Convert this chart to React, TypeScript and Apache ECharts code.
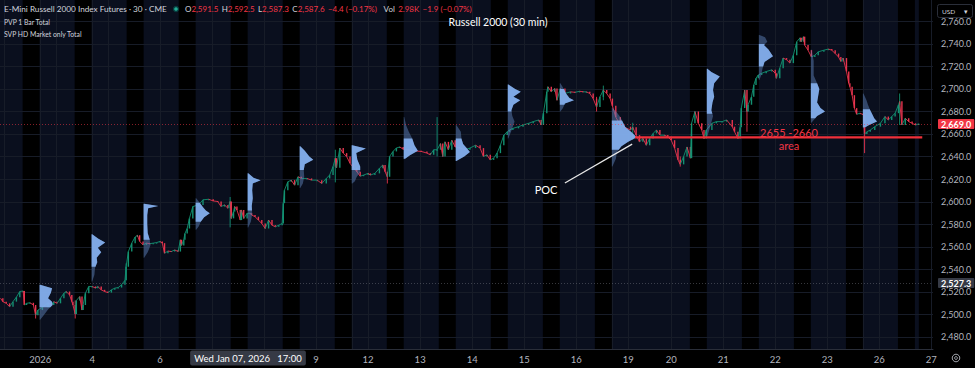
import React, { useEffect, useRef } from 'react';
import * as echarts from 'echarts';

// ---------- axis ticks ----------
const priceTicks = [2480, 2500, 2520, 2540, 2560, 2580, 2600, 2620, 2640, 2660, 2680, 2700, 2720, 2740, 2760];
const dayTickBars = [35, 81, 141, 279, 325, 371, 417, 463, 509, 555, 593, 639, 685, 731, 777, 823];
const dayTickLabels = ['2026', '4', '6', '9', '12', '13', '14', '15', '16', '19', '20', '21', '22', '23', '26', '27'];
const dayStartBars = [3, 35, 49, 81, 95, 141, 187, 233, 279, 311, 325, 371, 417, 463, 509, 541, 555, 593, 639, 685, 731, 763, 777, 823];

// overnight (ETH) session bands, in 30-min bars
const ethBands = [[-11, 20], [35, 66], [81, 112], [127, 158], [173, 204], [219, 250], [265, 296], [311, 342], [357, 388], [403, 434], [449, 480], [495, 526], [541, 610], [625, 656], [671, 702], [717, 748], [763, 794], [809, 812.5]];

// ---------- price path (bar index, close) ----------
const pathBars = [0, 2, 5, 8, 11, 14, 17, 20, 21, 23, 26, 29, 31, 33, 37, 42, 45, 47, 50, 53, 56, 58, 61, 63, 64, 66, 67, 70, 72, 73, 75, 78, 81, 84, 86, 89, 92, 95, 98, 101, 104, 107, 110, 111, 113, 116, 119, 121, 123, 126, 129, 132, 135, 138, 141, 143, 145, 148, 151, 154, 157, 159, 160, 162, 163, 165, 167, 170, 175, 179, 184, 188, 192, 195, 198, 201, 203, 204, 206, 207, 209, 212, 213, 215, 218, 221, 222, 225, 228, 231, 234, 237, 240, 243, 246, 249, 250, 251, 254, 257, 260, 263, 266, 271, 275, 280, 284, 288, 291, 294, 296, 297, 300, 303, 306, 309, 312, 315, 318, 321, 325, 327, 331, 335, 338, 340, 342, 344, 347, 350, 353, 356, 361, 366, 372, 377, 380, 383, 386, 389, 391, 393, 396, 399, 402, 406, 411, 415, 420, 424, 427, 430, 433, 436, 439, 442, 445, 448, 450, 453, 458, 462, 467, 471, 476, 478, 480, 483, 484, 487, 490, 492, 495, 499, 504, 508, 512, 515, 518, 521, 524, 527, 530, 533, 536, 539, 541, 544, 548, 551, 557, 559, 562, 565, 568, 571, 574, 577, 580, 583, 587, 590, 593, 596, 599, 601, 604, 607, 610, 611, 614, 617, 620, 622, 624, 629, 633, 638, 642, 647, 649, 652, 654, 655, 658, 660, 661, 664, 666, 668, 670, 673, 677, 682, 685, 686, 689, 692, 695, 698, 701, 704, 707, 708, 710, 711, 714, 717, 720, 723, 728, 732, 735, 738, 741, 743, 745, 748, 750, 751, 753, 755, 757, 760, 763, 764, 766, 769, 773, 778, 782, 785, 788, 791, 794, 795, 797, 800, 803, 806, 809, 812];
const pathPrices = [2514, 2511, 2509.5, 2506.5, 2511, 2515, 2520, 2520.5, 2508, 2509.5, 2510, 2508, 2499, 2503.5, 2506, 2510, 2508, 2511, 2509.5, 2514, 2518.5, 2520, 2517, 2511, 2508, 2500, 2512, 2515.5, 2503.5, 2508, 2518.5, 2524.5, 2524.5, 2523, 2524.5, 2521.5, 2520, 2519, 2521.5, 2523, 2523.5, 2526, 2530, 2542, 2555.5, 2563, 2568.5, 2570, 2564.5, 2561.5, 2563, 2562.5, 2563, 2563.5, 2564.5, 2563, 2554, 2556, 2555.5, 2557, 2555.5, 2566, 2561, 2566, 2571.5, 2576, 2585, 2595.5, 2597, 2601.5, 2602, 2600.5, 2600, 2595.5, 2597, 2594, 2600, 2585, 2591, 2595.5, 2592.5, 2583.5, 2592.5, 2585, 2589.5, 2589.5, 2588, 2586.5, 2583.5, 2580.5, 2576, 2583.5, 2579, 2577.5, 2579, 2580.5, 2598.5, 2610, 2617.5, 2619, 2614.5, 2622, 2620.5, 2620.5, 2619, 2619, 2616, 2620.5, 2623.5, 2631, 2638.5, 2630, 2647.5, 2643, 2640, 2634, 2630, 2626.5, 2622.5, 2623.5, 2625, 2623.5, 2625, 2629.5, 2632.5, 2626.5, 2622, 2640, 2644.5, 2647.5, 2648.5, 2646.5, 2646, 2645, 2644.5, 2643, 2641.5, 2646, 2646, 2651.5, 2640, 2653, 2646, 2654.5, 2648.5, 2647.5, 2646, 2647.5, 2650, 2647.5, 2640, 2641.5, 2637, 2638.5, 2643, 2650, 2659, 2662, 2663.5, 2665, 2666.5, 2668, 2669.5, 2671, 2672.5, 2668, 2678.5, 2697.5, 2702, 2697.5, 2700.5, 2690, 2700.5, 2696, 2697.5, 2697, 2698, 2697.5, 2697.5, 2696, 2691.5, 2684, 2693, 2699, 2696, 2691.5, 2685, 2675, 2668, 2666.5, 2663.5, 2666, 2659, 2653, 2656, 2650, 2656, 2660.5, 2663.5, 2659, 2659, 2657.5, 2654.5, 2647.5, 2637, 2633, 2640, 2648.5, 2638.5, 2669.5, 2680, 2669.5, 2663.5, 2656, 2663.5, 2669.5, 2671, 2671, 2672.5, 2666.5, 2662, 2656, 2666, 2683, 2699, 2680, 2686, 2693, 2703.5, 2709.5, 2712.5, 2714, 2715.5, 2717, 2714, 2709.5, 2718.5, 2727.5, 2726, 2723, 2730, 2742, 2745.5, 2742, 2746.5, 2739, 2734.5, 2728.5, 2730, 2733, 2734.5, 2735.5, 2734.5, 2731.5, 2728.5, 2724.5, 2727.5, 2715.5, 2705, 2702, 2694.5, 2683, 2677.5, 2678.5, 2677, 2660, 2662, 2663.5, 2666.5, 2669.5, 2675.5, 2672.5, 2675.5, 2678.5, 2686, 2689, 2668, 2674, 2671, 2669.5, 2668, 2669];

// long wicks
const wickBars = [31, 66, 111, 203, 296, 342, 386, 527, 533, 559, 601, 660, 764, 795];
const wickLows = [2496, 2496, 2530, 2577, 2617, 2616, 2640, 2680, 2690, 2655, 2631, 2662, 2643, 2668];
const wickHighs = [2506, 2512, 2545, 2604, 2646, 2626, 2675, 2693, 2703, 2670, 2640, 2686, 2677, 2696];

// ---------- session volume profiles ----------
const profileStarts = [35, 81, 127, 173, 219, 265, 311, 357, 403, 449, 495, 541, 625, 671, 717, 763];
// rows: [price, width in bars], top to bottom
const profileRows = [
  [[2526, 0.5], [2523, 11], [2519, 10], [2514, 7.5], [2511, 11], [2508, 11.5], [2504, 7.5], [2498, 3], [2495, 0.5]],
  [[2571, 0.5], [2567, 6], [2563.5, 12], [2559, 5.5], [2555, 8.5], [2550, 4.5], [2546, 5], [2541, 3], [2535, 2.5], [2529, 0.5]],
  [[2598, 0.5], [2596, 13], [2594, 4], [2588, 3.2], [2580, 3.2], [2572, 3.6], [2566, 5.4], [2561, 6], [2555, 3.6], [2550, 0.5]],
  [[2603, 0.5], [2599, 3.6], [2595, 6.5], [2592, 9], [2589.5, 12.5], [2586, 7.5], [2582, 4.5], [2578, 2.8], [2575, 0.5]],
  [[2625, 0.5], [2621, 5.5], [2619, 11.5], [2616, 4.5], [2610, 4], [2603, 4.5], [2596, 3.6], [2589, 4], [2582, 2.8], [2577, 0.5]],
  [[2649, 0.5], [2645, 4.5], [2640, 8.5], [2637, 12], [2633, 4.5], [2628, 3.6], [2622, 4], [2616, 2.8], [2612, 0.5]],
  [[2650, 0.5], [2647, 12.5], [2643, 4], [2637, 5], [2631, 7.5], [2626, 7.5], [2622, 4.5], [2618, 2.8], [2616, 0.5]],
  [[2675, 0.5], [2668, 2], [2662, 4.5], [2656, 7.5], [2650, 9.5], [2645, 12.5], [2641, 5.5], [2637.5, 0.5]],
  [[2668, 0.5], [2662, 4.5], [2656, 5], [2651, 6.5], [2647, 10], [2644, 12.5], [2640, 7.5], [2636, 0.5]],
  [[2704, 0.5], [2700, 6.5], [2697.5, 11.5], [2693, 5], [2690, 11], [2686, 5], [2681, 3.2], [2676, 4], [2671, 6], [2664, 3.6], [2656, 0.5]],
  [[2705, 0.5], [2700, 3.6], [2696, 5.5], [2692, 8.5], [2690, 12.5], [2687, 4.5], [2683, 2.8], [2680, 0.5]],
  [[2683, 0.5], [2679, 4.5], [2675, 7.5], [2670, 10], [2666, 12], [2662, 17], [2657, 22], [2653, 14.5], [2649, 8.5], [2644, 4.5], [2638, 3.6], [2631, 0.5]],
  [[2718, 0.5], [2715, 4], [2711, 11.5], [2705, 6.5], [2699, 5.5], [2693, 6.5], [2688, 5], [2681, 4], [2676, 5.5], [2667, 3.2], [2658, 0.5]],
  [[2748, 0.5], [2746, 5.5], [2742, 7.5], [2739, 4.5], [2735, 8.5], [2729, 12.5], [2724, 5], [2718, 3.2], [2712, 2], [2708, 0.5]],
  [[2735, 0.5], [2725, 2.5], [2712, 2.5], [2705, 5.5], [2700, 7.5], [2694, 6.5], [2688, 5.5], [2683, 8.5], [2680, 12.5], [2676, 5.5], [2670, 0.5]],
  [[2696, 0.5], [2690, 3.2], [2686, 4.5], [2681, 6.5], [2677, 8.5], [2674, 10], [2671, 12.5], [2668, 5.5], [2665, 0.5]],
];
const profileVA = [
  [2506, 2526], [2542, 2571], [2566, 2598], [2582, 2599], [2592, 2625], [2628, 2649], [2628, 2650], [2638, 2656],
  [2636, 2656], [2680, 2704], [2686, 2700], [2646, 2672], [2678, 2718], [2720, 2740], [2674, 2705], [2666, 2682],
];

// ---------- price tags & annotations ----------
const tagPrices = [2669.0, 2527.3];
const tagLabels = ['2,669.0', '2,527.3'];
const zoneLine = { fromBar: 561, toBar: 815, price: 2657 };
const pocLine = { fromBar: 499, fromPrice: 2616.5, toBar: 558.5, toPrice: 2651 };

const FONT = 'Lato, "Noto Sans", sans-serif';
const UP = '#139172';
const DOWN = '#e8344e';
const NAVY = '#0a0f1e';
const GRIDC = '#171c28';
const TEXT = '#b2b5be';
const VA_FILL = 'rgba(132,176,238,0.92)';
const OUT_FILL = 'rgba(92,128,182,0.5)';

const X_MIN = -0.5;
const X_MAX = 824.5;
const Y_MIN = 2468.9;
const Y_MAX = 2779.1;

function fmtPrice(v: number) {
  return v.toLocaleString('en-US', { minimumFractionDigits: 1, maximumFractionDigits: 1 });
}

function widthAt(rows: number[][], p: number) {
  for (let k = 0; k < rows.length - 1; k++) {
    const [p0, w0] = rows[k];
    const [p1, w1] = rows[k + 1];
    if (p <= p0 && p >= p1) {
      const t = p0 === p1 ? 0 : (p0 - p) / (p0 - p1);
      return w0 + (w1 - w0) * t;
    }
  }
  return 0;
}

export default function App() {
  const ref = useRef<HTMLDivElement>(null);

  useEffect(() => {
    if (!ref.current) return;
    const chart = echarts.init(ref.current, undefined, { renderer: 'svg' });
    const labelMap: Record<number, string> = {};
    dayTickBars.forEach((b, i) => (labelMap[b] = dayTickLabels[i]));

    const option: any = {
      animation: false,
      backgroundColor: '#000000',
      grid: { left: 0, right: 42, top: 0, bottom: 19, containLabel: false },
      xAxis: {
        type: 'value',
        min: X_MIN,
        max: X_MAX,
        axisLine: { show: true, lineStyle: { color: '#2a2e39' } },
        axisTick: { show: false },
        splitLine: { show: false },
        axisLabel: {
          customValues: dayTickBars,
          formatter: (v: number) => labelMap[v] ?? '',
          color: TEXT,
          fontSize: 9.5,
          fontFamily: FONT,
          margin: 5,
        },
      },
      yAxis: {
        type: 'value',
        position: 'right',
        min: Y_MIN,
        max: Y_MAX,
        axisLine: { show: true, lineStyle: { color: '#2a2e39' } },
        axisTick: { show: false },
        splitLine: { show: false },
        axisLabel: {
          customValues: priceTicks,
          formatter: (v: number) => fmtPrice(v),
          color: TEXT,
          fontSize: 9,
          lineHeight: 8,
          fontFamily: FONT,
          margin: 8,
        },
      },
      series: [
        {
          name: 'eth',
          type: 'custom',
          clip: true,
          z: 1,
          silent: true,
          data: ethBands,
          encode: { x: [0, 1] },
          renderItem: (params: any, api: any) => {
            const b = ethBands[params.dataIndex];
            const x0 = api.coord([b[0] - 0.5, Y_MIN])[0];
            const x1 = api.coord([b[1] - 0.5, Y_MIN])[0];
            const cs = params.coordSys;
            return { type: 'rect', shape: { x: x0, y: cs.y, width: x1 - x0, height: cs.height }, style: { fill: NAVY } };
          },
        },
        {
          name: 'gridH',
          type: 'custom',
          clip: true,
          z: 2,
          silent: true,
          data: priceTicks.map((v) => [0, v]),
          encode: { y: 1 },
          renderItem: (params: any, api: any) => {
            const v = priceTicks[params.dataIndex];
            const y = Math.round(api.coord([0, v])[1]) + 0.5;
            const cs = params.coordSys;
            return { type: 'line', shape: { x1: cs.x, y1: y, x2: cs.x + cs.width, y2: y }, style: { stroke: GRIDC, lineWidth: 1 } };
          },
        },
        {
          name: 'gridV',
          type: 'custom',
          clip: true,
          z: 2,
          silent: true,
          data: dayStartBars.map((b) => [b, 0]),
          encode: { x: 0 },
          renderItem: (params: any, api: any) => {
            const b = dayStartBars[params.dataIndex];
            const x = Math.round(api.coord([b, Y_MIN])[0]) + 0.5;
            const cs = params.coordSys;
            return { type: 'line', shape: { x1: x, y1: cs.y, x2: x, y2: cs.y + cs.height }, style: { stroke: GRIDC, lineWidth: 1 } };
          },
        },
        {
          name: 'wicks',
          type: 'custom',
          clip: true,
          z: 4,
          silent: true,
          data: wickBars.map((b, i) => [b, wickLows[i], wickHighs[i]]),
          encode: { x: 0, y: [1, 2] },
          renderItem: (params: any, api: any) => {
            const i = params.dataIndex;
            const lo = api.coord([wickBars[i], wickLows[i]]);
            const hi = api.coord([wickBars[i], wickHighs[i]]);
            const k = pathBars.indexOf(wickBars[i]);
            const up = k > 0 ? pathPrices[k] >= pathPrices[k - 1] : true;
            return { type: 'line', shape: { x1: lo[0], y1: lo[1], x2: hi[0], y2: hi[1] }, style: { stroke: up ? UP : DOWN, lineWidth: 0.9 } };
          },
        },
        {
          name: 'price',
          type: 'custom',
          clip: true,
          z: 5,
          silent: true,
          data: pathBars.map((b, i) => [b, pathPrices[i]]),
          encode: { x: 0, y: 1 },
          renderItem: (params: any, api: any) => {
            const i = params.dataIndex;
            if (i === 0) return { type: 'group', children: [] };
            const prev = api.coord([pathBars[i - 1], pathPrices[i - 1]]);
            const cur = api.coord([pathBars[i], pathPrices[i]]);
            const up = pathPrices[i] >= pathPrices[i - 1];
            const color = up ? UP : DOWN;
            const top = Math.min(prev[1], cur[1]);
            const h = Math.max(1, Math.abs(cur[1] - prev[1]));
            return {
              type: 'group',
              children: [
                { type: 'line', shape: { x1: prev[0], y1: prev[1], x2: cur[0], y2: cur[1] }, style: { stroke: color, lineWidth: 0.9 } },
                { type: 'rect', shape: { x: cur[0] - 0.7, y: top, width: 1.4, height: h }, style: { fill: color } },
              ],
            };
          },
        },
        {
          name: 'profiles',
          type: 'custom',
          clip: true,
          z: 6,
          silent: true,
          data: profileStarts.map((s, i) => [s, i]),
          encode: { x: 0 },
          renderItem: (params: any, api: any) => {
            const i = params.dataIndex;
            const s = profileStarts[i] - 0.5;
            const rows = profileRows[i];
            const [vaLo, vaHi] = profileVA[i];
            const pt = (b: number, p: number) => api.coord([b, p]);
            const top = rows[0][0];
            const bot = rows[rows.length - 1][0];
            const full = [pt(s, top), ...rows.map((r) => pt(s + r[1], r[0])), pt(s, bot)];
            const hi = Math.min(vaHi, top);
            const lo = Math.max(vaLo, bot);
            const va = [
              pt(s, hi),
              pt(s + widthAt(rows, hi), hi),
              ...rows.filter((r) => r[0] < hi && r[0] > lo).map((r) => pt(s + r[1], r[0])),
              pt(s + widthAt(rows, lo), lo),
              pt(s, lo),
            ];
            return {
              type: 'group',
              children: [
                { type: 'polygon', shape: { points: full }, style: { fill: OUT_FILL } },
                { type: 'polygon', shape: { points: va }, style: { fill: VA_FILL } },
              ],
            };
          },
        },
        {
          name: 'annotations',
          type: 'custom',
          clip: false,
          z: 7,
          silent: true,
          data: [[zoneLine.fromBar, zoneLine.price]],
          encode: { x: 0, y: 1 },
          renderItem: (params: any, api: any) => {
            const z0 = api.coord([zoneLine.fromBar, zoneLine.price]);
            const z1 = api.coord([zoneLine.toBar, zoneLine.price]);
            const p0 = api.coord([pocLine.fromBar, pocLine.fromPrice]);
            const p1 = api.coord([pocLine.toBar, pocLine.toPrice]);
            return {
              type: 'group',
              children: [
                { type: 'line', shape: { x1: z0[0], y1: z0[1], x2: z1[0], y2: z1[1] }, style: { stroke: '#f0303a', lineWidth: 2.2 } },
                { type: 'line', shape: { x1: p0[0], y1: p0[1], x2: p1[0], y2: p1[1] }, style: { stroke: '#e8e8e8', lineWidth: 1.2 } },
              ],
            };
          },
        },
        {
          name: 'tags',
          type: 'custom',
          clip: false,
          z: 8,
          silent: true,
          data: tagPrices.map((p) => [0, p]),
          encode: { y: 1 },
          renderItem: (params: any, api: any) => {
            const i = params.dataIndex;
            const y = Math.round(api.coord([0, tagPrices[i]])[1]) + 0.5;
            const cs = params.coordSys;
            const red = i === 0;
            return {
              type: 'group',
              children: [
                {
                  type: 'line',
                  shape: { x1: cs.x, y1: y, x2: cs.x + cs.width, y2: y },
                  style: { stroke: red ? 'rgba(242,54,69,0.55)' : 'rgba(120,123,134,0.45)', lineWidth: 1, lineDash: [1, 2] },
                },
                {
                  type: 'text',
                  x: cs.x + cs.width + 5,
                  y: y - 0.5,
                  style: {
                    text: tagLabels[i],
                    fill: '#ffffff',
                    backgroundColor: red ? '#f23645' : '#363a45',
                    padding: [0, 3, 0, 3],
                    borderRadius: 1,
                    fontSize: 9,
                    lineHeight: 10,
                    fontWeight: 'bold',
                    fontFamily: FONT,
                    align: 'left',
                    verticalAlign: 'middle',
                  },
                },
              ],
            };
          },
        },
      ],
      graphic: [
        {
          type: 'text', x: 4, y: 9, z: 100,
          style: { text: 'E-Mini Russell 2000 Index Futures · 30 · CME', fill: '#d1d4dc', fontSize: 8.2, fontFamily: FONT, verticalAlign: 'middle' },
        },
        { type: 'circle', z: 100, shape: { cx: 176, cy: 9, r: 3.2 }, style: { fill: 'rgba(8,153,129,0.35)' } },
        { type: 'circle', z: 101, shape: { cx: 176, cy: 9, r: 1.8 }, style: { fill: '#22ab94' } },
        {
          type: 'text', x: 185, y: 9, z: 100,
          style: {
            text: '{l|O}{v|2,591.5} {l|H}{v|2,592.5} {l|L}{v|2,587.3} {l|C}{v|2,587.6} {v|−4.4 (−0.17%)}  {l|Vol} {v|2.98K} {v|−1.9 (−0.07%)}',
            verticalAlign: 'middle',
            rich: {
              l: { fill: '#d1d4dc', fontSize: 8, fontFamily: FONT },
              v: { fill: '#f23645', fontSize: 8, fontFamily: FONT },
            },
          },
        },
        {
          type: 'text', x: 4, y: 22, z: 100,
          style: { text: 'PVP 1 Bar Total', fill: '#d1d4dc', fontSize: 6.8, fontFamily: FONT, verticalAlign: 'middle' },
        },
        {
          type: 'text', x: 4, y: 34, z: 100,
          style: { text: 'SVP HD Market only Total', fill: '#d1d4dc', fontSize: 6.8, fontFamily: FONT, verticalAlign: 'middle' },
        },
        {
          type: 'text', x: 498, y: 22, z: 100,
          style: { text: 'Russell 2000 (30 min)', fill: '#ffffff', fontSize: 10.5, fontFamily: FONT, align: 'center', verticalAlign: 'middle' },
        },
        {
          type: 'text', x: 546, y: 189, z: 100,
          style: { text: 'POC', fill: '#ffffff', fontSize: 11, fontFamily: FONT, align: 'center', verticalAlign: 'middle' },
        },
        {
          type: 'text', x: 789, y: 132, z: 100,
          style: { text: '2655 -2660', fill: '#f23645', fontSize: 11, fontFamily: FONT, align: 'center', verticalAlign: 'middle' },
        },
        {
          type: 'text', x: 789, y: 145, z: 100,
          style: { text: 'area', fill: '#f23645', fontSize: 11, fontFamily: FONT, align: 'center', verticalAlign: 'middle' },
        },
        {
          type: 'text', x: 248, y: 358, z: 100,
          style: {
            text: 'Wed Jan 07, 2026   17:00',
            fill: '#ffffff',
            backgroundColor: '#363a45',
            padding: [3, 4, 2, 4],
            borderRadius: 2,
            fontSize: 9.5,
            fontFamily: FONT,
            align: 'center',
            verticalAlign: 'middle',
          },
        },
        { type: 'rect', z: 100, shape: { x: 937.5, y: 4.5, width: 35, height: 13, r: 2 }, style: { fill: '#000000', stroke: '#2a2e39', lineWidth: 1 } },
        {
          type: 'text', x: 942, y: 11, z: 101,
          style: { text: 'USD', fill: '#d1d4dc', fontSize: 6.5, fontFamily: FONT, verticalAlign: 'middle' },
        },
        {
          type: 'text', x: 966, y: 11, z: 101,
          style: { text: '▾', fill: '#d1d4dc', fontSize: 7, fontFamily: FONT, verticalAlign: 'middle', align: 'center' },
        },
        { type: 'circle', z: 100, shape: { cx: 956, cy: 358, r: 3.8 }, style: { fill: 'none', stroke: TEXT, lineWidth: 0.9 } },
        { type: 'circle', z: 100, shape: { cx: 956, cy: 358, r: 1.4 }, style: { fill: 'none', stroke: TEXT, lineWidth: 0.9 } },
      ],
    };

    chart.setOption(option);
    return () => chart.dispose();
  }, []);

  return (
    <div
      ref={ref}
      style={{ position: 'absolute', left: 0, top: 0, width: 975, height: 368, background: '#000' }}
    />
  );
}
